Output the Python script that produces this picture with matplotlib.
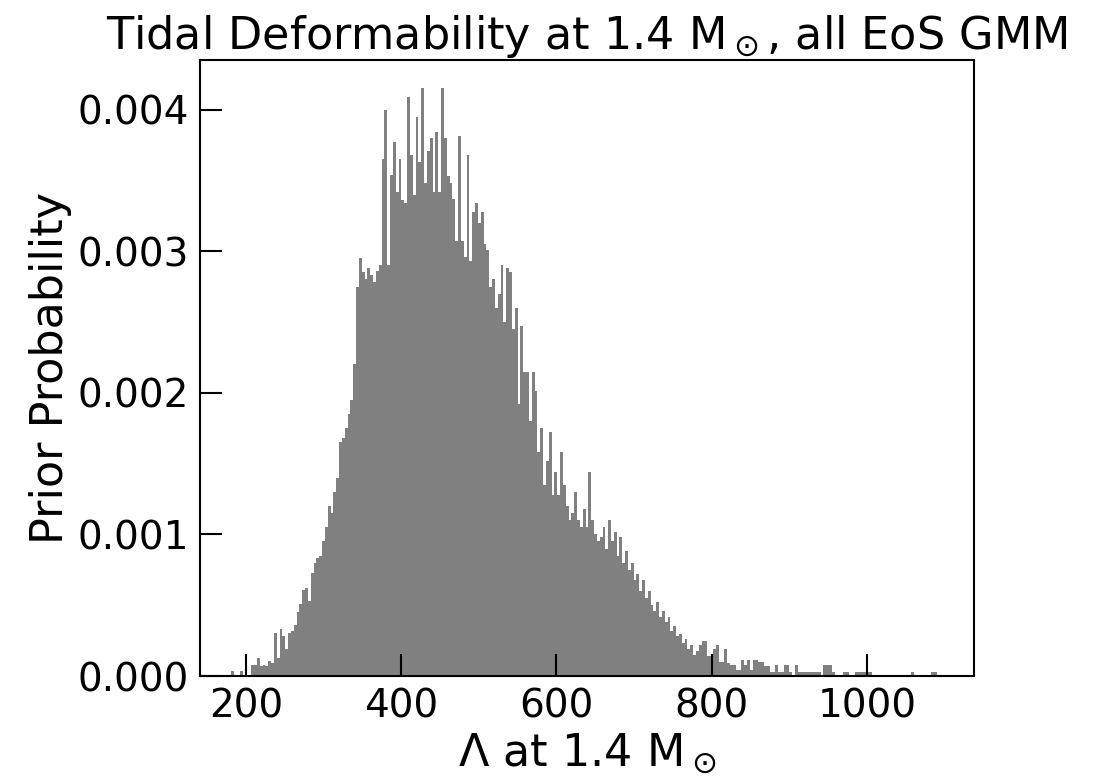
import numpy as np
import matplotlib
matplotlib.use("Agg")
import matplotlib.pyplot as plt

# histogram: uniform bins from 141 in steps of 3.65,
# heights in units of 1e-4 (prior probability density)
BIN_START = 141.0
BIN_WIDTH = 3.65

heights_e4 = [
    # 0-19
    0.06, 0.06, 0.06, 0.06, 0.06, 0.06, 0.06, 0.06, 0.0, 0.0,
    0.0, 0.35, 0.0, 0.0, 0.35, 0.0, 0.0, 0.0, 0.8, 0.8,
    # 20-39
    1.3, 0.7, 0.8, 0.7, 1.06, 0.9, 3.06, 1.3, 3.3, 2.8,
    1.9, 3.06, 3.2, 3.6, 4.5, 5.1, 6.1, 6.2, 5.3, 7.3,
    # 40-59
    8.0, 8.3, 8.5, 9.5, 10.5, 12.0, 11.5, 13.0, 14.0, 16.5,
    16.8, 17.5, 18.5, 19.5, 22.0, 27.5, 29.5, 28.5, 28.0, 28.8,
    # 60-79
    28.3, 27.8, 28.6, 29.0, 36.5, 40.0, 29.0, 35.4, 37.7, 34.2,
    36.5, 33.6, 33.4, 40.9, 36.8, 34.0, 39.5, 36.3, 41.5, 34.8,
    # 80-99
    37.1, 38.0, 34.2, 38.4, 34.2, 41.5, 38.0, 35.3, 34.8, 33.7,
    30.7, 38.1, 30.7, 29.6, 36.8, 29.3, 32.8, 33.4, 32.0, 32.8,
    # 100-119
    30.5, 30.1, 27.5, 28.0, 26.0, 27.0, 29.0, 25.0, 28.8, 28.5,
    24.5, 26.0, 19.2, 24.7, 21.5, 21.5, 18.0, 21.5, 20.1, 15.8,
    # 120-139
    17.5, 13.5, 15.2, 17.2, 12.8, 14.4, 12.8, 15.8, 13.5, 12.0,
    11.0, 11.5, 13.0, 11.0, 10.5, 11.8, 10.5, 14.4, 11.0, 10.0,
    # 140-159
    9.5, 9.8, 10.5, 9.0, 11.0, 9.5, 10.2, 8.5, 9.8, 8.0,
    8.8, 7.5, 8.0, 6.8, 7.2, 6.0, 6.8, 5.5, 6.0, 5.0,
    # 160-179
    4.6, 5.2, 4.2, 4.6, 3.8, 4.2, 3.2, 3.5, 2.8, 3.0,
    2.3, 2.6, 1.9, 2.2, 1.5, 1.8, 2.2, 2.5, 2.5, 1.4,
    # 180-199
    1.4, 1.9, 2.2, 1.0, 1.0, 1.9, 0.9, 0.8, 0.8, 0.4,
    0.4, 1.1, 0.8, 1.1, 0.4, 1.1, 1.1, 1.0, 1.0, 0.7,
    # 200-219
    0.7, 0.3, 0.3, 0.8, 0.3, 0.3, 0.8, 0.8, 0.3, 0.0,
    0.8, 0.3, 0.3, 0.3, 0.3, 0.3, 0.3, 0.3, 0.3, 0.0,
    # 220-239
    0.8, 0.8, 0.8, 0.3, 0.0, 0.0, 0.0, 0.3, 0.3, 0.0,
    0.0, 0.3, 0.3, 0.3, 0.3, 0.3, 0.3, 0.0, 0.0, 0.0,
    # 240-259
    0.0, 0.0, 0.0, 0.0, 0.0, 0.0, 0.0, 0.0, 0.0, 0.0,
    0.0, 0.3, 0.0, 0.0, 0.0, 0.0, 0.0, 0.0, 0.3, 0.3,
]

heights = np.array(heights_e4) * 1e-4
edges = BIN_START + BIN_WIDTH * np.arange(len(heights) + 1)

fig = plt.figure(figsize=(10.96, 7.81), dpi=100)
ax = fig.add_axes([0.1825, 0.1344, 0.7062, 0.7888])

ax.hist(edges[:-1], bins=edges, weights=heights, color="gray")

ax.set_xlim(140.7, 1138)
ax.set_ylim(0, 0.00435)

ax.set_title(r"Tidal Deformability at 1.4 M$_\odot$, all EoS GMM", fontsize=32)
ax.set_xlabel(r"$\Lambda$ at 1.4 M$_\odot$", fontsize=32)
ax.set_ylabel("Prior Probability", fontsize=32)

ax.tick_params(direction="in", length=16, width=1.5, labelsize=28, pad=8)
for s in ax.spines.values():
    s.set_linewidth(1.5)

fig.savefig("out.png", dpi=100)
